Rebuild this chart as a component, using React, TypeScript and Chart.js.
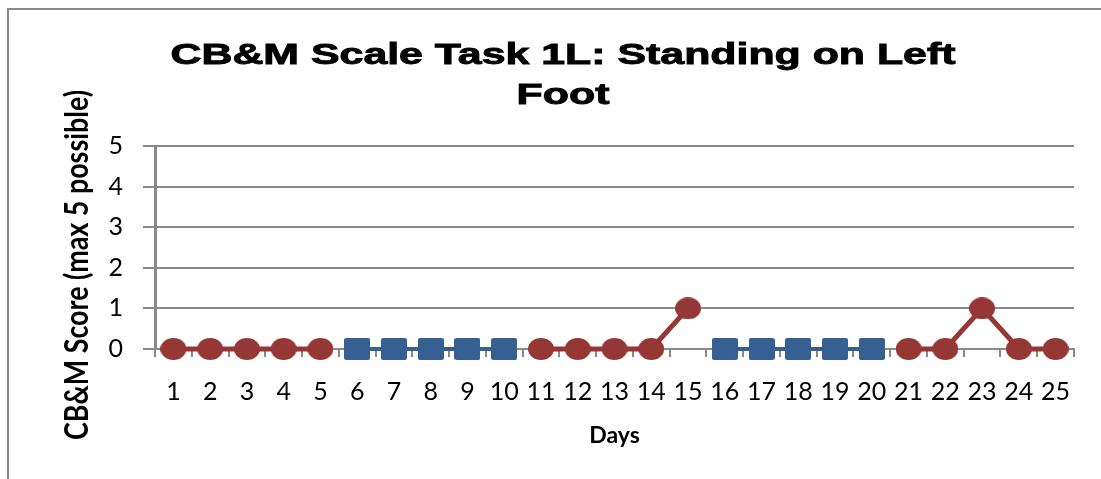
import React, { useEffect, useRef } from "react";
import { Chart, registerables } from "chart.js";

Chart.register(...registerables);

const days = ["1","2","3","4","5","6","7","8","9","10","11","12","13","14","15","16","17","18","19","20","21","22","23","24","25"];
const redScores = [0,0,0,0,0,null,null,null,null,null,0,0,0,0,1,null,null,null,null,null,0,0,1,0,0];
const blueScores = [null,null,null,null,null,0,0,0,0,0,null,null,null,null,null,0,0,0,0,0,null,null,null,null,null];
const yTicks = [0,1,2,3,4,5];
const titleLines = ["CB&M Scale Task 1L: Standing on Left", "Foot"];
const yTitle = "CB&M Score (max 5 possible)";
const xTitle = "Days";

const RED = "#953735";
const BLUE = "#376092";
const GRID = "#898989";

function makeEllipse(w: number, h: number, color: string) {
  const c = document.createElement("canvas");
  c.width = w; c.height = h;
  const g = c.getContext("2d")!;
  g.fillStyle = color;
  g.beginPath();
  g.ellipse(w / 2, h / 2, w / 2, h / 2, 0, 0, Math.PI * 2);
  g.fill();
  return c;
}

function makeRect(w: number, h: number, color: string) {
  const c = document.createElement("canvas");
  c.width = w; c.height = h;
  const g = c.getContext("2d")!;
  g.fillStyle = color;
  g.beginPath();
  const r = 2;
  g.moveTo(r, 0); g.lineTo(w - r, 0); g.quadraticCurveTo(w, 0, w, r);
  g.lineTo(w, h - r); g.quadraticCurveTo(w, h, w - r, h);
  g.lineTo(r, h); g.quadraticCurveTo(0, h, 0, h - r);
  g.lineTo(0, r); g.quadraticCurveTo(0, 0, r, 0);
  g.fill();
  return c;
}

const decorPlugin = {
  id: "decor",
  beforeDraw(chart: any) {
    const ctx = chart.ctx;
    ctx.save();
    ctx.fillStyle = "#ffffff";
    ctx.fillRect(0, 0, chart.width, chart.height);
    ctx.strokeStyle = GRID;
    ctx.lineWidth = 2;
    ctx.strokeRect(8, 9, 3000, 3000);
    ctx.restore();
  },
  afterDraw(chart: any) {
    const ctx = chart.ctx;
    // main title
    ctx.save();
    ctx.font = 'bold 30px "Liberation Sans", Arial, sans-serif';
    ctx.fillStyle = "#000";
    ctx.strokeStyle = "#000";
    ctx.lineWidth = 0.9;
    ctx.textAlign = "center";
    ctx.textBaseline = "alphabetic";
    const w1 = ctx.measureText(titleLines[0]).width;
    const k = 785 / w1;
    const baselines = [64, 104];
    titleLines.forEach((line, i) => {
      ctx.save();
      ctx.translate(563, baselines[i]);
      ctx.scale(k, 1);
      ctx.fillText(line, 0, 0);
      ctx.strokeText(line, 0, 0);
      ctx.restore();
    });
    ctx.restore();
    // y axis title
    ctx.save();
    ctx.font = 'bold 28px Lato, sans-serif';
    ctx.fillStyle = "#000";
    ctx.textAlign = "center";
    ctx.textBaseline = "alphabetic";
    const wy = ctx.measureText(yTitle).width;
    ctx.translate(88, 265);
    ctx.rotate(-Math.PI / 2);
    ctx.scale(350 / wy, 1.15);
    ctx.fillText(yTitle, 0, 0);
    ctx.restore();
  },
};

export default function App() {
  const ref = useRef<HTMLCanvasElement | null>(null);
  useEffect(() => {
    if (!ref.current) return;
    const redMarker = makeEllipse(26, 22, RED);
    const blueMarker = makeRect(26, 22, BLUE);
    const chart = new Chart(ref.current, {
      type: "line",
      data: {
        labels: days,
        datasets: [
          {
            label: "Baseline",
            data: redScores,
            borderColor: RED,
            backgroundColor: RED,
            borderWidth: 5,
            pointStyle: redMarker as any,
            pointRadius: 12,
            spanGaps: false,
            clip: false as any,
            tension: 0,
          },
          {
            label: "Intervention",
            data: blueScores,
            borderColor: BLUE,
            backgroundColor: BLUE,
            borderWidth: 4,
            pointStyle: blueMarker as any,
            pointRadius: 12,
            spanGaps: false,
            clip: false as any,
            tension: 0,
          },
        ],
      },
      options: {
        animation: false,
        responsive: false,
        events: [],
        layout: { padding: { top: 146, left: 0, right: 27, bottom: 30 } },
        plugins: {
          legend: { display: false },
          title: { display: false },
          tooltip: { enabled: false },
        },
        scales: {
          x: {
            type: "category",
            offset: true,
            grid: {
              display: true,
              drawOnChartArea: false,
              drawTicks: true,
              tickLength: 8,
              color: GRID,
              lineWidth: 2,
              offset: true,
            },
            border: { display: true, color: GRID, width: 2 },
            ticks: {
              autoSkip: false,
              maxRotation: 0,
              minRotation: 0,
              padding: 20,
              color: "#000",
              font: { family: "Lato", size: 25 },
            },
            title: {
              display: true,
              text: xTitle,
              color: "#000",
              font: { family: "Lato", size: 23, weight: "bold" },
              padding: 0,
            },
            afterFit: (s: any) => { s.height = 100; },
          },
          y: {
            min: 0,
            max: 5,
            afterBuildTicks: (s: any) => { s.ticks = yTicks.map((v) => ({ value: v })); },
            ticks: {
              stepSize: 1,
              padding: 20,
              color: "#000",
              font: { family: "Lato", size: 25 },
            },
            grid: { color: GRID, lineWidth: 2, drawTicks: true, tickLength: 12 },
            border: { display: true, color: GRID, width: 3 },
            afterFit: (s: any) => { s.width = 155; },
          },
        },
      },
      plugins: [decorPlugin],
    });
    return () => chart.destroy();
  }, []);
  return (
    <div style={{ position: "fixed", left: 0, top: 0, width: 1101, height: 479, overflow: "hidden", background: "#fff" }}>
      <canvas ref={ref} width={1101} height={479} style={{ display: "block", width: 1101, height: 479 }} />
    </div>
  );
}
